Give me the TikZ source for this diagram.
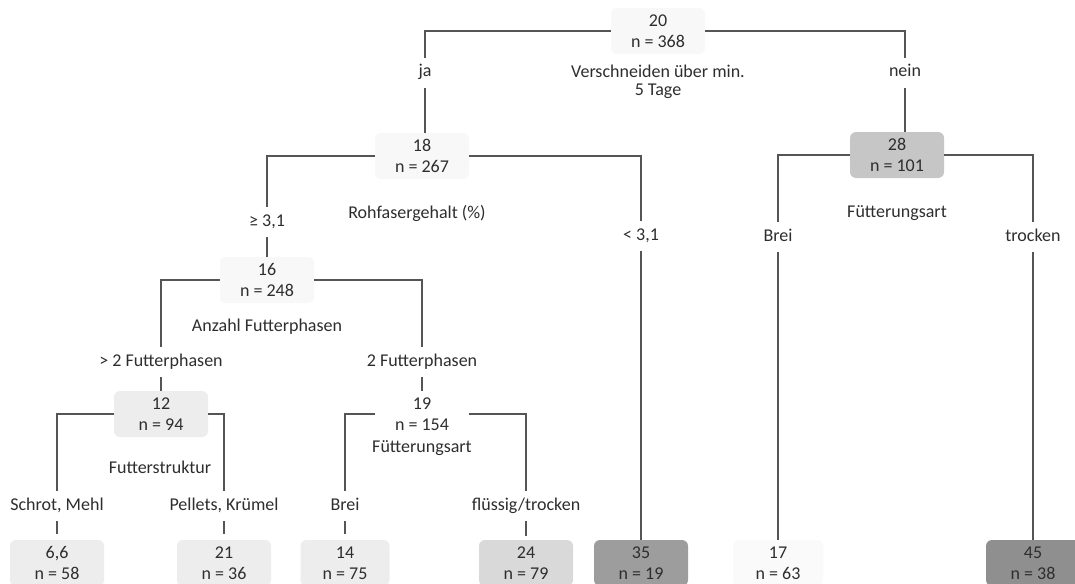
\documentclass[tikz,border=0pt]{standalone}
\usepackage{fontspec}
\setmainfont{Carlito}
\definecolor{txt}{HTML}{2E2E2E}
\definecolor{ln}{HTML}{555555}
\definecolor{cA}{HTML}{F8F8F8}
\definecolor{cB}{HTML}{EDEDED}
\definecolor{cC}{HTML}{D9D9D9}
\definecolor{cD}{HTML}{C6C6C6}
\definecolor{cE}{HTML}{9D9D9D}
\definecolor{cF}{HTML}{8F8F8F}
\definecolor{cG}{HTML}{FAFAFA}
\begin{document}
\begin{tikzpicture}[x=1pt,y=-1pt,
  font=\fontsize{18}{21}\selectfont,
  stat/.style={align=center, rounded corners=6pt, minimum width=94pt, minimum height=46pt, inner sep=0pt, text=txt},
  lbl/.style={inner xsep=2pt, inner ysep=7pt, text height=12pt, text depth=4pt, text=txt},
  var/.style={align=center, text=txt, inner sep=0pt},
  conn/.style={draw=ln, line width=1.3pt}]
\useasboundingbox (0,0) rectangle (1075,583);
\clip (0,0) rectangle (1075,583);
\fill[white] (0,0) rectangle (1075,583);

% inner nodes
\node[stat, fill=cA] (n20) at (658,31) {20\\n = 368};
\node[stat, fill=cA] (n18) at (422,156) {18\\n = 267};
\node[stat, fill=cD] (n28) at (897,155) {28\\n = 101};
\node[stat, fill=cA] (n16) at (267,280) {16\\n = 248};
\node[stat, fill=cB] (n12) at (161,414) {12\\n = 94};
\node[stat] (n19) at (422,414) {19\\n = 154};

% leaves
\node[stat, fill=cB] (n66) at (57,563) {6,6\\n = 58};
\node[stat, fill=cB] (n21) at (224,563) {21\\n = 36};
\node[stat, fill=cB, minimum width=89pt] (n14) at (345,563) {14\\n = 75};
\node[stat, fill=cC] (n24) at (526,563) {24\\n = 79};
\node[stat, fill=cE] (n35) at (641,563) {35\\n = 19};
\node[stat, fill=cG, minimum width=90pt] (n17) at (778,563) {17\\n = 63};
\node[stat, fill=cF] (n45) at (1033,563) {45\\n = 38};

% split variables
\node[var, font=\fontsize{18}{18}\selectfont] (v20) at (658,82) {Verschneiden über min.\\5 Tage};
\node[var] (v18) at (417,213) {Rohfasergehalt (\%)};
\node[var] (v28) at (897,213) {Fütterungsart};
\node[var] (v16) at (267,327) {Anzahl Futterphasen};
\node[var] (v12) at (160,467) {Futterstruktur};
\node[var] (v19) at (422,448) {Fütterungsart};

% branch labels
\node[lbl] (lja) at (425,73) {ja};
\node[lbl] (lnein) at (905,73) {nein};
\node[lbl] (lge) at (267,222) {≥ 3,1};
\node[lbl] (llt) at (641,236) {< 3,1};
\node[lbl] (lbreiA) at (778,237) {Brei};
\node[lbl] (ltrock) at (1033,237) {trocken};
\node[lbl] (lgt) at (161,362) {> 2 Futterphasen};
\node[lbl] (lzwei) at (422,362) {2 Futterphasen};
\node[lbl] (lschrot) at (57,506) {Schrot, Mehl};
\node[lbl] (lpel) at (224,506) {Pellets, Krümel};
\node[lbl] (lbreiB) at (345,506) {Brei};
\node[lbl] (lfl) at (526,506) {flüssig/trocken};

% connectors
\foreach \p/\l/\c/\s/\g in {n20/lja/n18/west/0, n20/lnein/n28/east/0,
  n18/lge/n16/west/0, n18/llt/n35/east/0,
  n28/lbreiA/n17/west/0, n28/ltrock/n45/east/0,
  n16/lgt/n12/west/0, n16/lzwei/n19/east/0,
  n12/lschrot/n66/west/6, n12/lpel/n21/east/6,
  n19/lbreiB/n14/west/6, n19/lfl/n24/east/4}{
  \draw[conn] (\p.\s) -| (\l.north);
  \draw[conn, shorten >=\g pt] (\l.south) -- (\l.south |- \c.north);
}
\end{tikzpicture}
\end{document}
